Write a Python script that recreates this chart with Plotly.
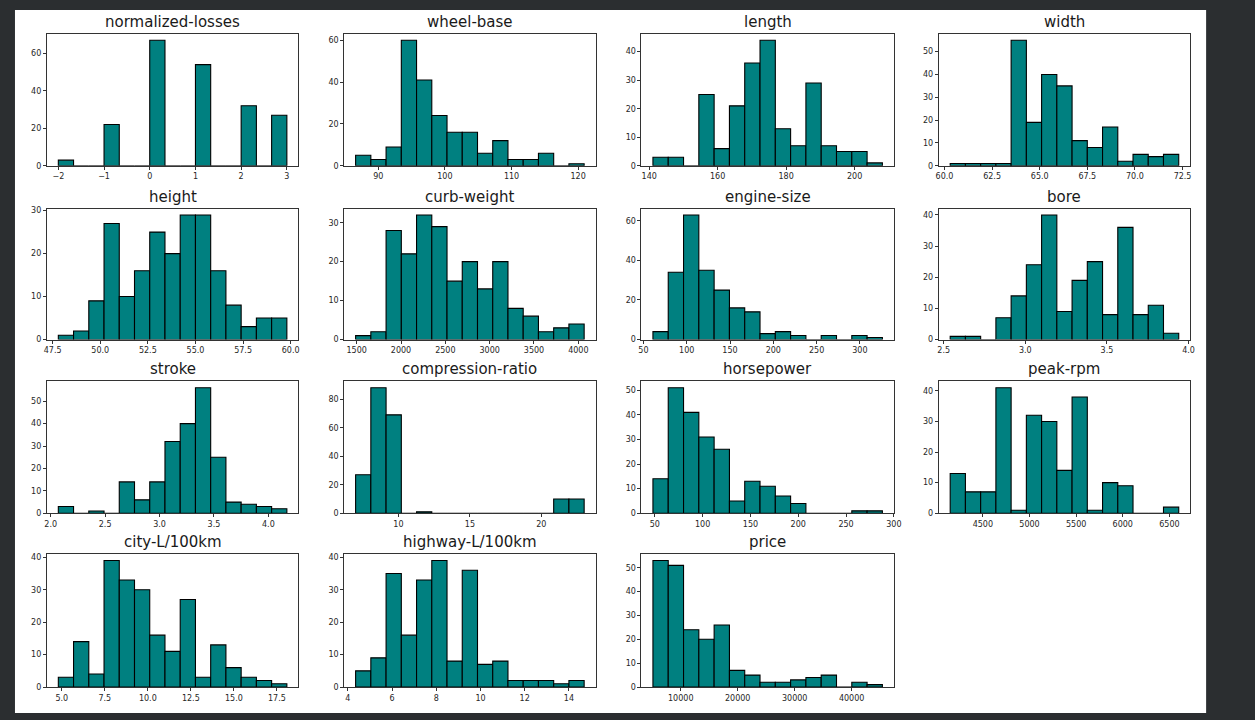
import numpy as np
import plotly.graph_objects as go

# ---------------- data (histogram counts, 15 equal bins between min and max) ----------------
titles = ["normalized-losses", "wheel-base", "length", "width",
          "height", "curb-weight", "engine-size", "bore",
          "stroke", "compression-ratio", "horsepower", "peak-rpm",
          "city-L/100km", "highway-L/100km", "price"]

normalized_losses = [3, 0, 0, 22, 0, 0, 67, 0, 0, 54, 0, 0, 32, 0, 27]
wheel_base = [5, 3, 9, 60, 41, 24, 16, 16, 6, 12, 3, 3, 6, 0, 1]
length = [3, 3, 0, 25, 6, 21, 36, 44, 13, 7, 29, 7, 5, 5, 1]
width = [1, 1, 1, 1, 55, 19, 40, 35, 11, 8, 17, 2, 5, 4, 5]
height = [1, 2, 9, 27, 10, 16, 25, 20, 29, 29, 16, 8, 3, 5, 5]
curb_weight = [1, 2, 28, 22, 32, 29, 15, 20, 13, 20, 8, 6, 2, 3, 4]
engine_size = [4, 34, 63, 35, 25, 16, 14, 3, 4, 2, 0, 2, 0, 2, 1]
bore = [1, 1, 0, 7, 14, 24, 40, 9, 19, 25, 8, 36, 8, 11, 2]
stroke = [3, 0, 1, 0, 14, 6, 14, 32, 40, 56, 25, 5, 4, 3, 2]
compression_ratio = [27, 88, 69, 0, 1, 0, 0, 0, 0, 0, 0, 0, 0, 10, 10]
horsepower = [14, 51, 41, 31, 26, 5, 13, 11, 7, 4, 0, 0, 0, 1, 1]
peak_rpm = [13, 7, 7, 41, 1, 32, 30, 14, 38, 1, 10, 9, 0, 0, 2]
city_l_100km = [3, 14, 4, 39, 33, 30, 16, 11, 27, 3, 13, 6, 3, 2, 1]
highway_l_100km = [5, 9, 35, 16, 33, 39, 8, 36, 7, 8, 2, 2, 2, 1, 2]
price = [53, 51, 24, 20, 26, 7, 5, 2, 2, 3, 4, 5, 0, 2, 1]

all_counts = [normalized_losses, wheel_base, length, width, height, curb_weight,
              engine_size, bore, stroke, compression_ratio, horsepower, peak_rpm,
              city_l_100km, highway_l_100km, price]

data_min = [-2, 86.6, 141.1, 60.3, 47.8, 1488, 61, 2.54, 2.07, 7, 48, 4150, 4.8, 4.35, 5118]
data_max = [3, 120.9, 208.1, 72.3, 59.8, 4066, 326, 3.94, 4.17, 23, 288, 6600, 18.08, 14.69, 45400]

x_ticks = [
    [-2, -1, 0, 1, 2, 3],
    [90, 100, 110, 120],
    [140, 160, 180, 200],
    [60.0, 62.5, 65.0, 67.5, 70.0, 72.5],
    [47.5, 50.0, 52.5, 55.0, 57.5, 60.0],
    [1500, 2000, 2500, 3000, 3500, 4000],
    [50, 100, 150, 200, 250, 300],
    [2.5, 3.0, 3.5, 4.0],
    [2.0, 2.5, 3.0, 3.5, 4.0],
    [10, 15, 20],
    [50, 100, 150, 200, 250, 300],
    [4500, 5000, 5500, 6000, 6500],
    [5.0, 7.5, 10.0, 12.5, 15.0, 17.5],
    [4, 6, 8, 10, 12, 14],
    [10000, 20000, 30000, 40000],
]
x_decimals = [0, 0, 0, 1, 1, 0, 0, 1, 1, 0, 0, 0, 1, 0, 0]
y_dtick = [20, 20, 10, 10, 10, 10, 20, 10, 10, 20, 10, 10, 10, 10, 10]

# ---------------- layout geometry (reference pixels, mapped to paper fractions) ----------------
RW, RH = 1255, 720          # reference picture size
FW, FH = 1263, 726          # figure size (fills the browser viewport)
col_left = [44, 342, 640, 938]
col_right = [296, 594, 893, 1190]
row_top = [32, 207, 380, 553]
row_bottom = [164, 338, 512, 686]


def px(x):
    return x / RW


def py(y):
    return 1 - y / RH


BAR = "#008080"
DARK = "#2b2e30"
TXT = "#262626"
FONT = "DejaVu Sans"

fig = go.Figure()
layout = dict(
    width=FW, height=FH,
    margin=dict(l=0, r=0, t=0, b=0),
    paper_bgcolor=DARK, plot_bgcolor="white",
    showlegend=False, barmode="overlay",
    font=dict(family=FONT, color=TXT, size=8),
    shapes=[dict(type="rect", xref="paper", yref="paper",
                 x0=px(12), x1=px(1206), y0=py(712), y1=py(8),
                 fillcolor="white", line=dict(width=0), layer="below")],
    annotations=[],
)

for i, (title, counts, lo, hi) in enumerate(zip(titles, all_counts, data_min, data_max)):
    r, c = divmod(i, 4)
    k = i + 1
    xa = "x" if k == 1 else f"x{k}"
    ya = "y" if k == 1 else f"y{k}"
    edges = np.linspace(lo, hi, len(counts) + 1)
    centers = (edges[:-1] + edges[1:]) / 2
    bw = edges[1] - edges[0]
    fig.add_trace(go.Bar(
        x=centers, y=counts, width=bw, xaxis=xa, yaxis=ya,
        marker=dict(color=BAR, line=dict(color="black", width=1.1)),
        hoverinfo="x+y",
    ))
    span = hi - lo
    xr = [lo - 0.05 * span, hi + 0.05 * span]
    yr = [0, max(counts) * 1.05]
    dec = x_decimals[i]
    tt = [(f"{v:.{dec}f}").replace("-", "\u2212") for v in x_ticks[i]]
    yt = list(range(0, int(yr[1]) + 1, y_dtick[i]))
    axis_common = dict(showgrid=False, zeroline=False, showline=True, mirror=True,
                       linecolor="#333333", linewidth=1, ticks="outside",
                       ticklen=3, tickwidth=1, tickcolor="#333333",
                       tickfont=dict(family=FONT, size=8, color=TXT))
    layout["xaxis" if k == 1 else f"xaxis{k}"] = dict(
        axis_common, domain=[px(col_left[c]), px(col_right[c])], anchor=ya,
        range=xr, tickmode="array", tickvals=x_ticks[i], ticktext=tt)
    layout["yaxis" if k == 1 else f"yaxis{k}"] = dict(
        axis_common, domain=[py(row_bottom[r]), py(row_top[r])], anchor=xa,
        range=yr, tickmode="array", tickvals=yt, ticktext=[str(v) for v in yt])
    layout["annotations"].append(dict(
        text=title, xref="paper", yref="paper",
        x=(px(col_left[c]) + px(col_right[c])) / 2, y=py(row_top[r]),
        xanchor="center", yanchor="bottom", yshift=1, showarrow=False,
        font=dict(family=FONT, size=15, color="#1a1a1a")))

fig.update_layout(**layout)
fig.write_html(
    "out.html",
    config={"displayModeBar": False, "responsive": False},
    post_script="document.body.style.margin='0';"
                "document.body.style.overflow='hidden';"
                "document.body.style.background='%s';" % DARK,
)
